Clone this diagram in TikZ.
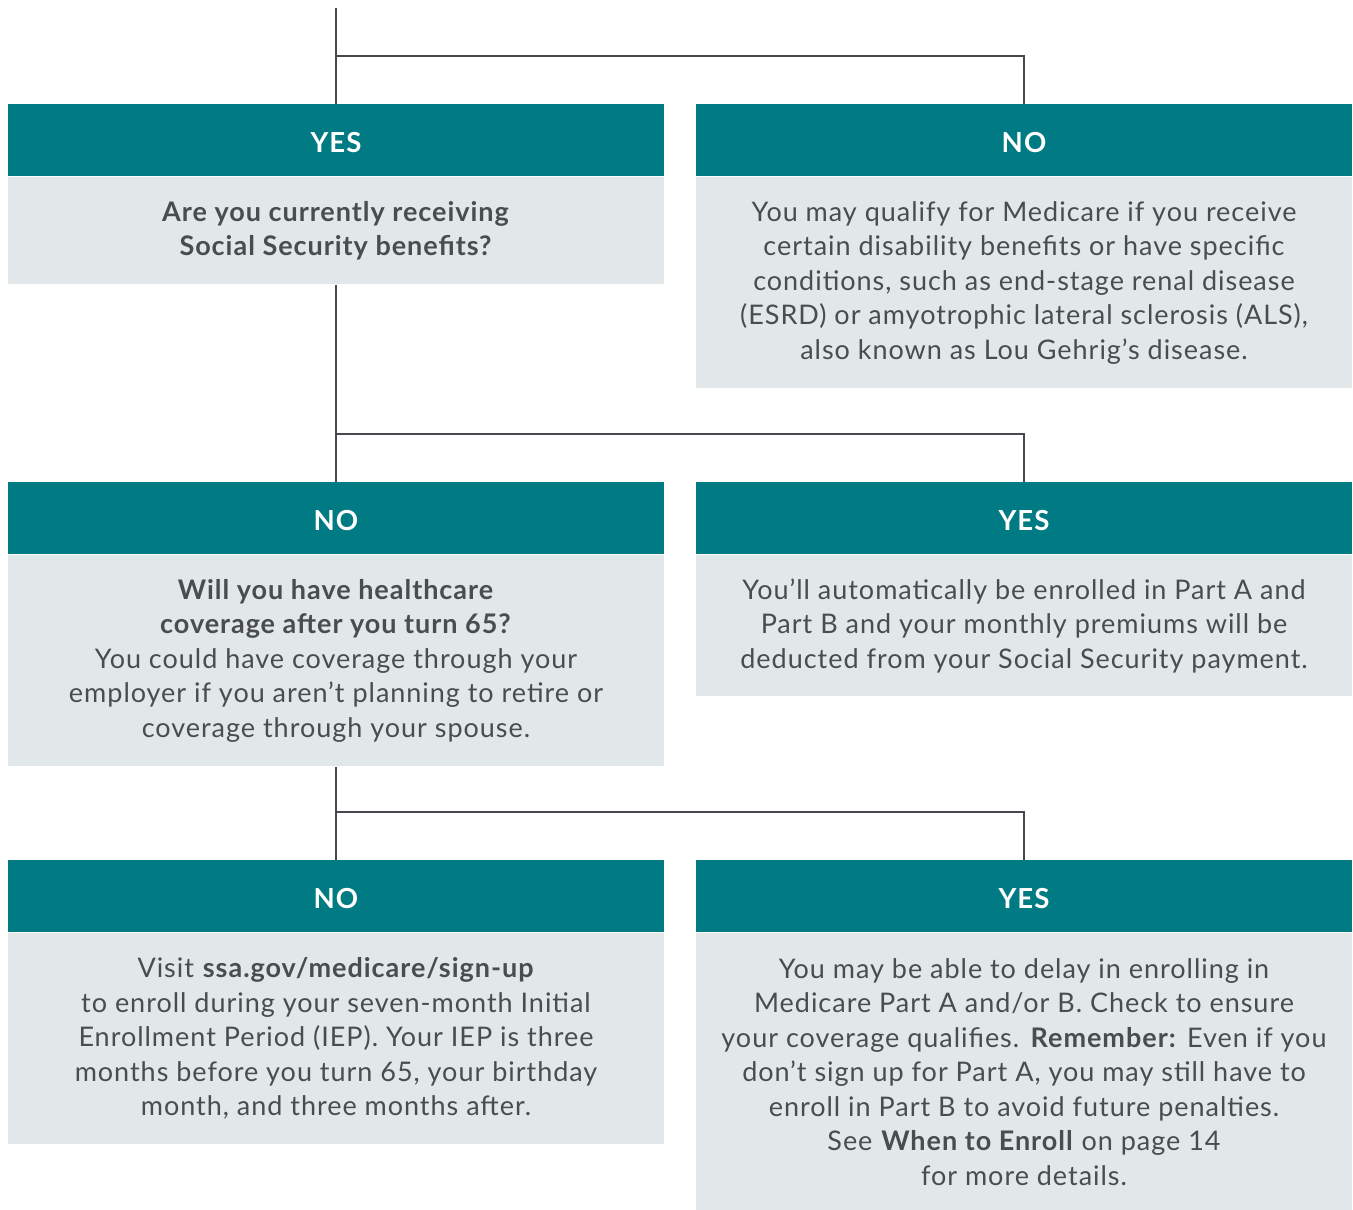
\documentclass[tikz,border=0pt]{standalone}
\usepackage{fontspec}
\setmainfont{Lato}[LetterSpace=3.6]
\usetikzlibrary{positioning}

\definecolor{tealhd}{HTML}{007B84}
\definecolor{graybd}{HTML}{E2E7EA}
\definecolor{linegray}{HTML}{45484C}
\definecolor{txtgray}{HTML}{4A4D50}

\begin{document}
\begin{tikzpicture}[
  x=0.5pt,y=-0.5pt,
  font=\fontsize{13.5}{17.25}\selectfont,
  head/.style={fill=tealhd,text=white,font=\fontsize{13.8}{17.25}\selectfont\bfseries,minimum width=328pt,minimum height=36pt,inner sep=0pt,text height=12pt,text depth=0pt,anchor=north},
  body/.style={fill=graybd,text=txtgray,align=center,minimum width=328pt,inner sep=0pt,below=0pt of #1},
  link/.style={draw=linegray,line width=1.1pt},
]
\useasboundingbox (0,0) rectangle (1353,1209);

% row 1: receiving benefits?
\node[head] (yesA) at (336,104) {YES};
\node[head] (noA)  at (1024,104) {NO};
\node[body=yesA,minimum height=53.5pt] (askA) {\textbf{Are you currently receiving}\\ \textbf{Social Security benefits?}};
\node[body=noA,minimum height=105.5pt] (infoA) {You may qualify for Medicare if you receive\\ certain disability benefits or have specific\\ conditions, such as end-stage renal disease\\ (ESRD) or amyotrophic lateral sclerosis (ALS),\\ also known as Lou Gehrig’s disease.};

% row 2: coverage after 65?
\node[head] (noB)  at (336,482) {NO};
\node[head] (yesB) at (1024,482) {YES};
\node[body=noB,minimum height=105.5pt] (askB) {\textbf{Will you have healthcare}\\ \textbf{coverage after you turn 65?}\\ You could have coverage through your\\ employer if you aren’t planning to retire or\\ coverage through your spouse.};
\node[body=yesB,minimum height=70.5pt] (infoB) {You’ll automatically be enrolled in Part A and\\ Part B and your monthly premiums will be\\ deducted from your Social Security payment.};

% row 3: outcomes
\node[head] (noC)  at (336,860) {NO};
\node[head] (yesC) at (1024,860) {YES};
\node[body=noC,minimum height=105.5pt] (infoC) {Visit \textbf{ssa.gov/medicare/sign-up}\\ to enroll during your seven-month Initial\\ Enrollment Period (IEP). Your IEP is three\\ months before you turn 65, your birthday\\ month, and three months after.};
\node[body=yesC,minimum height=138.5pt] (infoD) {You may be able to delay in enrolling in\\ Medicare Part A and/or B. Check to ensure\\ your coverage qualifies. \textbf{Remember:} Even if you\\ don’t sign up for Part A, you may still have to\\ enroll in Part B to avoid future penalties.\\ See \textbf{When to Enroll} on page 14\\ for more details.};

% connectors
\coordinate (start) at (336,8);
\coordinate (splitA) at ([yshift=24pt]yesA.north);
\coordinate (splitB) at ([yshift=24pt]noB.north);
\coordinate (splitC) at ([yshift=24pt]noC.north);
\draw[link] (start) -- (yesA.north);
\draw[link] (splitA) -| (noA.north);
\draw[link] (askA.south) -- (noB.north);
\draw[link] (splitB) -| (yesB.north);
\draw[link] (askB.south) -- (noC.north);
\draw[link] (splitC) -| (yesC.north);

\end{tikzpicture}
\end{document}
